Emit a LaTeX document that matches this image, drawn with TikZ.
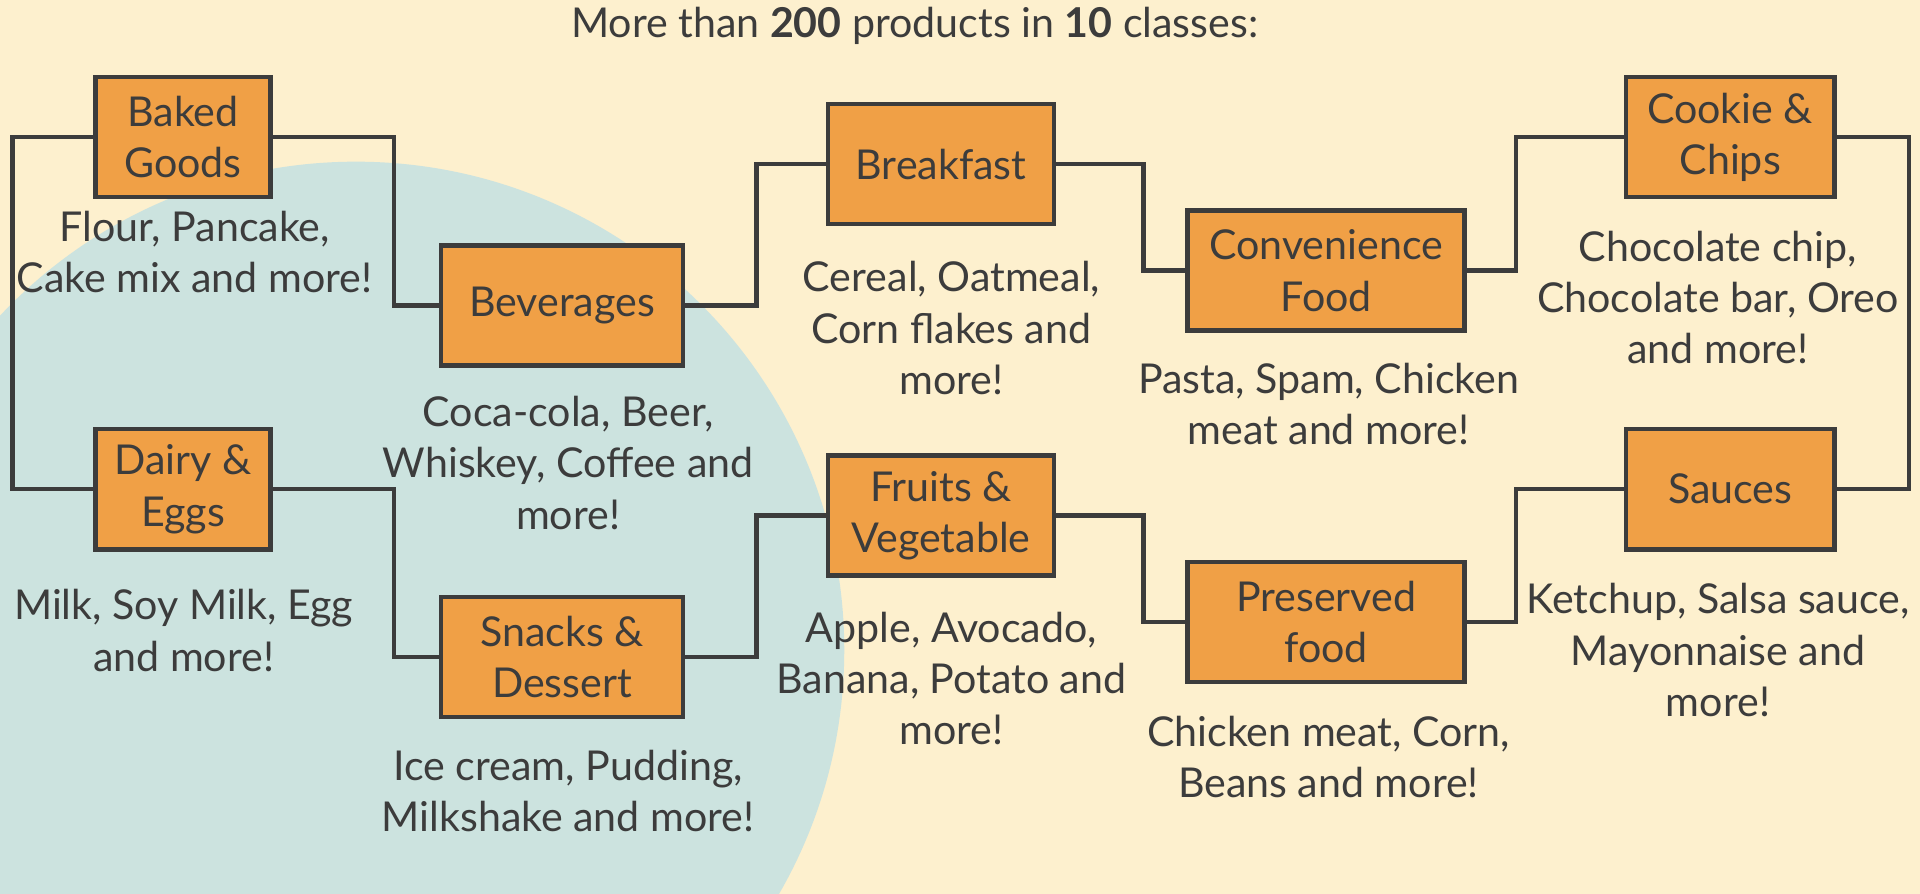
\documentclass[tikz,border=0pt]{standalone}
\usepackage{fontspec}
\setmainfont{Lato}
\usepackage{tikz}
\usetikzlibrary{positioning}
\definecolor{cream}{RGB}{253,240,206}
\definecolor{seafoam}{RGB}{204,227,223}
\definecolor{crate}{RGB}{240,160,70}
\definecolor{ink}{RGB}{60,60,60}

\begin{document}
\begin{tikzpicture}[x=0.012245cm, y=-0.012245cm, every node/.style={font=\fontsize{11.7}{14.6}\selectfont, text=ink}, box/.style={draw=ink,fill=crate,line width=1.3pt,minimum height=1.2cm,align=center,inner sep=2pt}, desc/.style={align=center,inner sep=1pt}, link/.style={draw=ink,line width=1.3pt}]
% background and round patch
\fill[cream] (0,0) rectangle (1568,730);
\begin{scope}
\clip (0,0) rectangle (1568,730);
\fill[seafoam] (290.7,530.8) circle[radius=4.88cm];
\end{scope}
\useasboundingbox (0,0) rectangle (1568,730);

\node (title) at (747,21) {More than \textbf{200} products in \textbf{10} classes:};

% classes
\node[box,minimum width=1.75cm] (baked) at (149.5,112) {Baked\\Goods};
\node[box,minimum width=2.42cm] (bev) at (459,249.5) {Beverages};
\node[box,minimum width=2.26cm] (breakfast) at (768.5,134) {Breakfast};
\node[box,minimum width=2.77cm] (conv) at (1083,221) {Convenience\\Food};
\node[box,minimum width=2.08cm] (cookie) at (1413,112) {Cookie \&\\Chips};
\node[box,minimum width=1.75cm] (dairy) at (149.5,399.5) {Dairy \&\\Eggs};
\node[box,minimum width=2.42cm] (snacks) at (459,536.5) {Snacks \&\\Dessert};
\node[box,minimum width=2.26cm] (fruits) at (768.5,421) {Fruits \&\\Vegetable};
\node[box,minimum width=2.77cm] (preserved) at (1083,508) {Preserved\\food};
\node[box,minimum width=2.08cm] (sauces) at (1413,399.5) {Sauces};

% examples under each class
\node[desc] (bakedtxt) at (159,206) {Flour, Pancake,\\Cake mix and more!};
\node[desc] (bevtxt) at (464,378) {Coca-cola, Beer,\\Whiskey, Coffee and\\more!};
\node[desc] (breakfasttxt) at (777,268) {Cereal, Oatmeal,\\Corn flakes and\\more!};
\node[desc] (convtxt) at (1085,330) {Pasta, Spam, Chicken\\meat and more!};
\node[desc] (cookietxt) at (1403,243) {Chocolate chip,\\Chocolate bar, Oreo\\and more!};
\node[desc] (dairytxt) at (150,515) {Milk, Soy Milk, Egg\\and more!};
\node[desc] (snackstxt) at (464,646) {Ice cream, Pudding,\\Milkshake and more!};
\node[desc] (fruitstxt) at (777,554) {Apple, Avocado,\\Banana, Potato and\\more!};
\node[desc] (preservedtxt) at (1085,618) {Chicken meat, Corn,\\Beans and more!};
\node[desc] (saucestxt) at (1403,531) {Ketchup, Salsa sauce,\\Mayonnaise and\\more!};

% links
\draw[link] (baked.west) -- ++(-66,0) |- (dairy.west);
\draw[link] (baked.east) -- ++(99,0) |- (bev.west);
\draw[link] (bev.east) -- ++(58,0) |- (breakfast.west);
\draw[link] (breakfast.east) -- ++(71,0) |- (conv.west);
\draw[link] (conv.east) -- ++(40,0) |- (cookie.west);
\draw[link] (cookie.east) -- ++(59,0) |- (sauces.east);
\draw[link] (dairy.east) -- ++(99,0) |- (snacks.west);
\draw[link] (snacks.east) -- ++(58,0) |- (fruits.west);
\draw[link] (fruits.east) -- ++(71,0) |- (preserved.west);
\draw[link] (preserved.east) -- ++(40,0) |- (sauces.west);
\end{tikzpicture}
\end{document}
